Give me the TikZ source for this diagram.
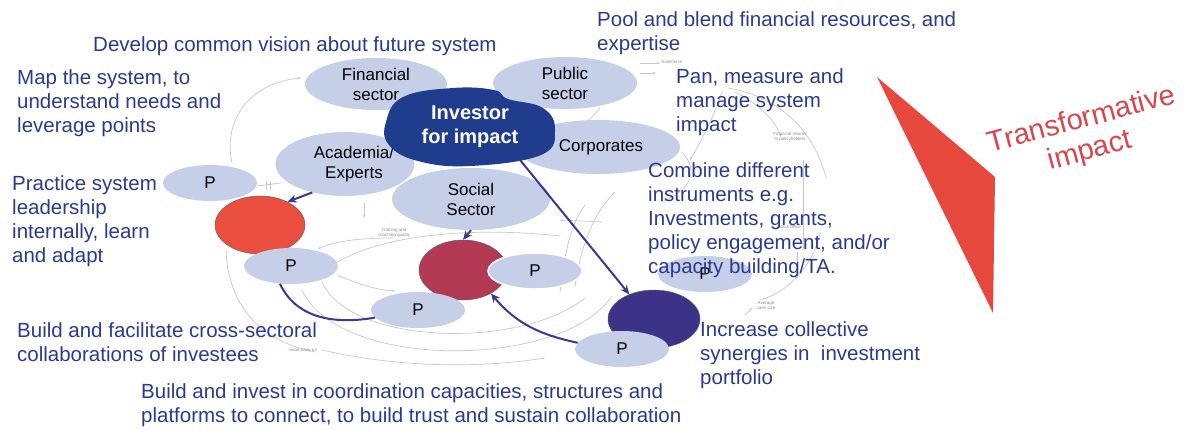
\documentclass[tikz,border=0pt]{standalone}
\usepackage{fontspec}
\setmainfont{Liberation Sans}
\usetikzlibrary{arrows.meta,shapes.geometric}

\definecolor{paleblue}{RGB}{197,207,232}
\definecolor{invblue}{RGB}{31,61,140}
\definecolor{txtblue}{RGB}{44,58,140}
\definecolor{tomato}{RGB}{233,78,62}
\definecolor{wine}{RGB}{178,58,85}
\definecolor{deepnavy}{RGB}{60,50,135}
\definecolor{linkblue}{RGB}{58,58,138}
\definecolor{wedge}{RGB}{231,72,62}
\definecolor{wedgetext}{RGB}{214,70,78}

\begin{document}
\begin{tikzpicture}[x=1pt,y=-1pt,
  actor/.style={ellipse, fill=paleblue, inner sep=0pt, align=center,
    font=\fontsize{17}{20}\selectfont},
  pnode/.style={actor, minimum width=94pt, minimum height=36pt},
  disc/.style={ellipse, inner sep=0pt, draw=black!60, line width=0.5pt},
  % multi-line notes are anchored at the baseline of their last line
  note/.style={text=txtblue, align=left, anchor=base west, inner sep=0pt,
    font=\fontsize{20.5}{24}\selectfont},
  link/.style={draw=linkblue, line width=2pt},
  linkarrow/.style={link, -{Stealth[length=9pt,width=8pt]}},
  loopline/.style={draw=black!22, line width=0.7pt},
  looparrow/.style={loopline, -{Stealth[length=3pt,width=2.5pt]}},
  looplabel/.style={text=black!45, align=center, inner sep=0pt,
    font=\fontsize{4.5}{5}\selectfont}]
\useasboundingbox (0,0) rectangle (1185,429);

% ---- faint causal-loop sketch in the background ----
\draw[looparrow] (232,163) .. controls (222,115) and (255,82) .. (301,78);
\draw[loopline] (257,186) -- (281,183);
\draw[loopline] (266,181) -- (266,190) (270,181) -- (270,190);
\draw[looparrow] (393,238) .. controls (360,238) and (335,241) .. (318,249);
\draw[looparrow] (364,203) -- (364,218);
\draw[looparrow] (337,275) .. controls (360,285) and (378,290) .. (395,291);
\draw[loopline] (338,262) .. controls (380,236) and (470,226) .. (560,236);
\draw[loopline] (322,282) .. controls (350,345) and (520,350) .. (585,298);
\draw[loopline] (302,290) .. controls (340,372) and (565,368) .. (612,296);
\draw[looparrow] (322,350) .. controls (400,368) and (480,368) .. (545,358);
\draw[loopline] (226,250) .. controls (228,305) and (260,342) .. (316,352);
\draw[looparrow] (575,287) .. controls (580,250) and (592,215) .. (615,192);
\draw[loopline] (560,292) .. controls (565,252) and (570,225) .. (585,205);
\draw[looparrow] (602,222) -- (560,220);
\draw[looparrow] (640,63) -- (660,63);
\draw[looparrow] (640,73) -- (656,73);
\draw[loopline] (600,108) -- (585,125);
\draw[loopline] (728,88) .. controls (770,95) and (812,122) .. (826,178);
\draw[looparrow] (735,92) .. controls (760,105) and (775,120) .. (781,137);
\draw[looparrow] (722,92) .. controls (715,112) and (705,135) .. (690,160);
\draw[loopline] (803,160) -- (803,250);
\draw[loopline] (760,300) .. controls (790,292) and (815,262) .. (820,232);
\draw[loopline] (797,252) -- (797,278);
\draw[loopline] (682,152) .. controls (700,172) and (690,190) .. (662,202);
\draw[looparrow] (745,315) -- (752,308);
\node[looplabel] (lbltrain) at (394,233) {Training and\\coaching quality};
\node[looplabel] (lblsales) at (672,62) {Salesforce};
\node[looplabel] (lblret) at (790,137) {Financial returns\\to policyholders};
\node[looplabel] (lblback) at (790,227) {Back office};
\node[looplabel] (lblavg) at (766,305) {Average\\case size};
\node[looplabel] (lblearly) at (303,350) {value early on};

% ---- sector actors ----
\node[actor, minimum width=142pt, minimum height=52pt] (fin) at (376,84) {Financial\\sector};
\node[actor, minimum width=144pt, minimum height=52pt] (pub) at (565,83) {Public\\sector};
\node[actor, minimum width=164pt, minimum height=54pt] (corp) at (598,147) {\hspace*{6pt}Corporates};
\node[actor, minimum width=130pt, minimum height=64pt] (acad) at (345,164) {\hspace*{18pt}Academia/\\\hspace*{18pt}Experts};
\node[actor, minimum width=158pt, minimum height=62pt] (soc) at (471,199) {Social\\Sector};

% ---- the investor ----
\fill[invblue] plot[smooth cycle, tension=0.7] coordinates {
  (386,122) (403,97) (453,88) (494,90) (508,99) (543,108)
  (555,130) (541,155) (470,166) (418,161) (389,145)};
\node[ellipse, inner sep=0pt, minimum width=170pt, minimum height=78pt,
  text=white, align=center, font=\bfseries\fontsize{20}{24}\selectfont]
  (inv) at (470,127) {Investor\\for impact};

% ---- portfolio clusters ----
\node[pnode] (ptl) at (210,183) {P};
\node[disc, fill=tomato, minimum width=90pt, minimum height=58pt] (red) at (260,225) {};
\node[pnode] (pl) at (291,266) {P};

\node[disc, fill=wine, minimum width=88pt, minimum height=60pt] (mar) at (463,270) {};
\node[pnode, draw=white, line width=1.5pt] (pr) at (535,271) {P};
\node[pnode] (pm) at (418,310) {P};

\node[pnode] (pc) at (705,274) {P};
\node[disc, fill=deepnavy, minimum width=92pt, minimum height=58pt] (nav) at (654,319) {};
\node[pnode] (pbr) at (622,349) {P};

% ---- connectors ----
\draw[linkarrow] (inv.-33) -- (nav.135);
\draw[linkarrow] (acad.-139) -- (red.40);
\draw[linkarrow] (soc.south) -- (mar.north);
\draw[link] (pl.-122) to[out=-65,in=190] (pm.190);
\draw[linkarrow] (pbr.172) to[out=168,in=-50] (mar.-40);

% ---- actions ----
\node[note] (vision) at (93,51) {Develop common vision about future system};
\node[note] (pool) at (597,50) {Pool and blend financial resources, and\\expertise};
\node[note] (map) at (17,132) {Map the system, to\\understand needs and\\leverage points};
\node[note] (plan) at (676,131) {Pan, measure and\\manage system\\impact};
\node[note] (lead) at (12,262) {Practice system\\leadership\\internally, learn\\and adapt};
\node[note] (combine) at (648,273) {Combine different\\instruments e.g.\\Investments, grants,\\policy engagement, and/or\\capacity building/TA.};
\node[note] (collab) at (17,361) {Build and facilitate cross-sectoral\\collaborations of investees};
\node[note] (synergy) at (700,384) {Increase collective\\synergies in~ investment\\portfolio};
\node[note] (coord) at (141,422) {Build and invest in coordination capacities, structures and\\platforms to connect, to build trust and sustain collaboration};

% ---- transformative impact ----
\fill[wedge] (877,77) -- (995,177) -- (993,313) -- cycle;
\node[rotate=15, text=wedgetext, align=center, inner sep=0pt,
  font=\fontsize{29}{32}\selectfont] (transf) at (1086,136) {Transformative\\impact};
\end{tikzpicture}
\end{document}
